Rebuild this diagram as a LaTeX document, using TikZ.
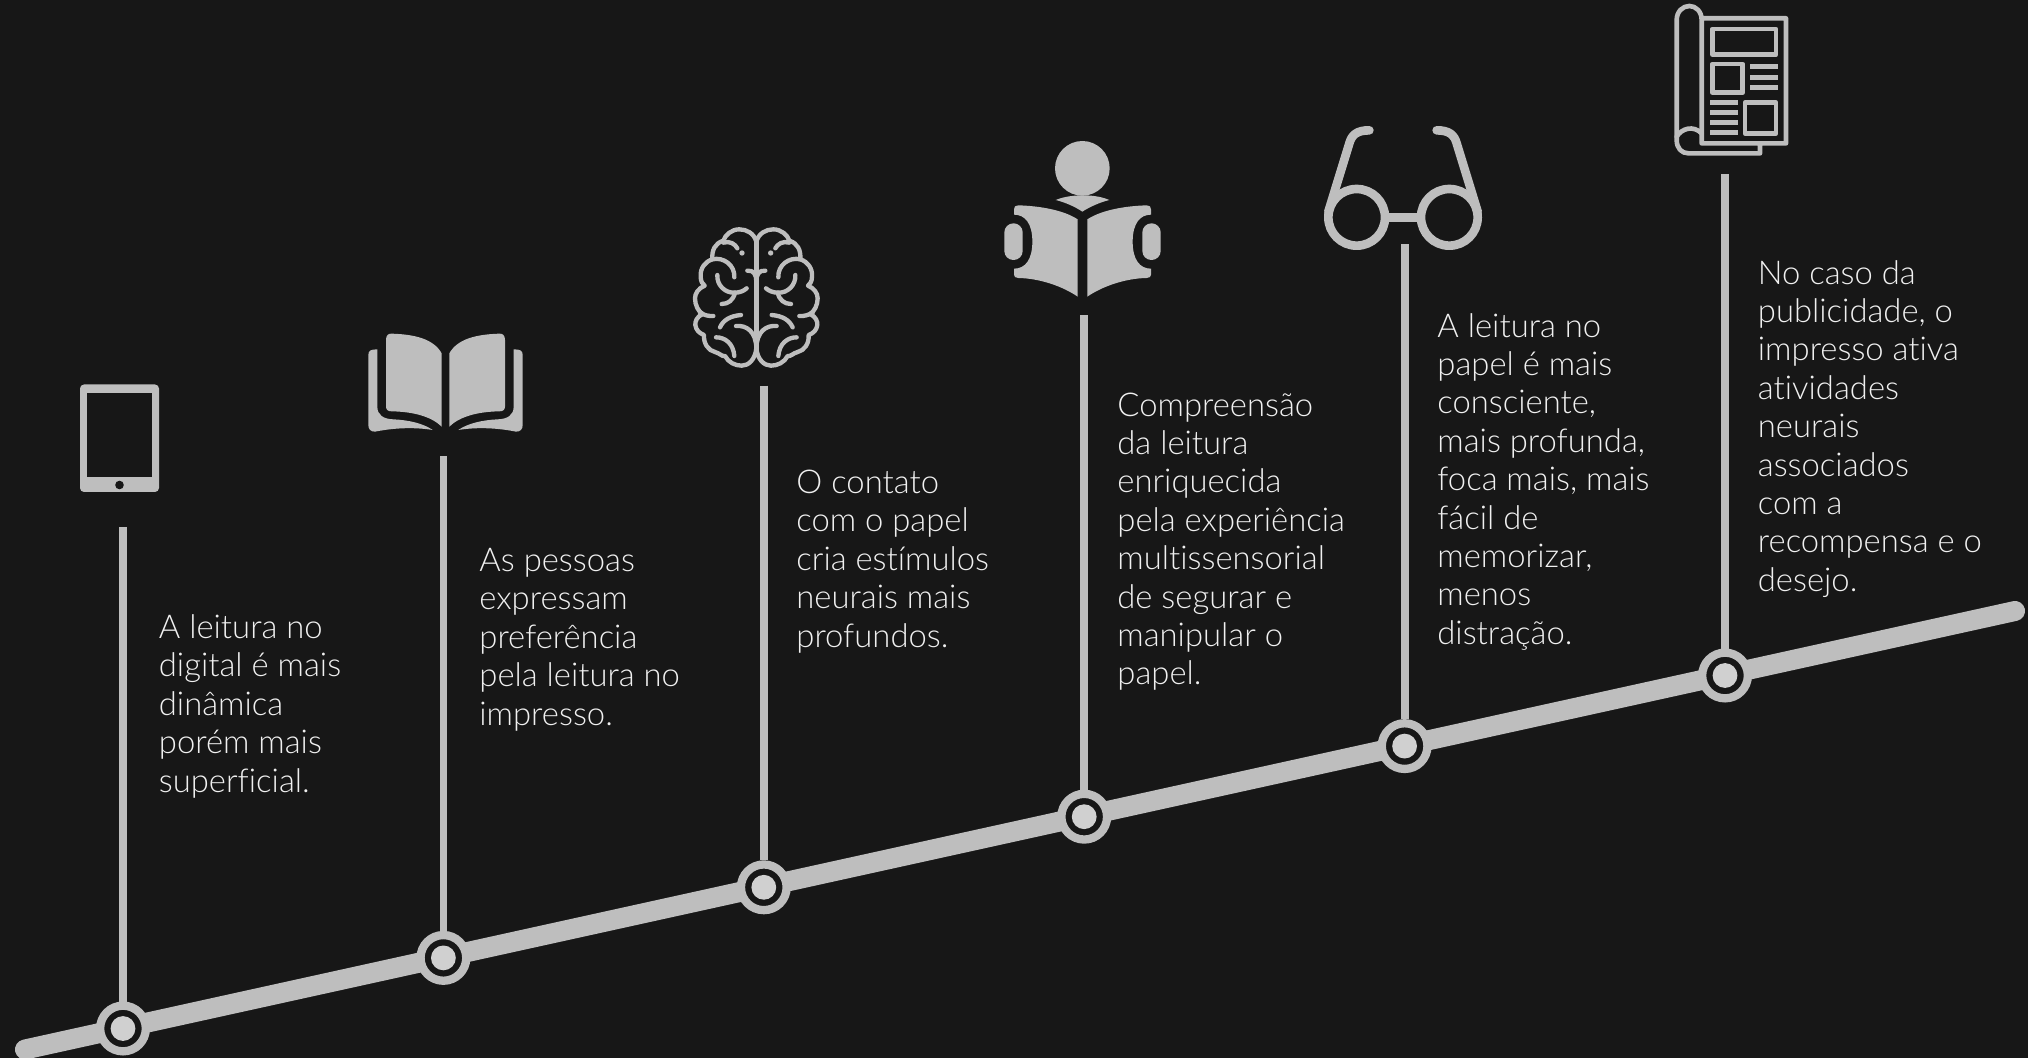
\documentclass[tikz,border=0pt]{standalone}
\usepackage{fontspec}
\setmainfont{Lato Light}[Ligatures=NoCommon]
\usetikzlibrary{positioning}
\definecolor{bgc}{HTML}{171717}
\definecolor{linec}{HTML}{BEBEBE}
\definecolor{discc}{HTML}{D0D0D0}
\definecolor{textc}{HTML}{F0F0F0}
\tikzset{
  crop/.style={x=0.16667pt,y=-0.16667pt},
  glyph/.style={fill=linec,draw=none},
  outline/.style={draw=linec,fill=none,line cap=round,line join=round},
  rail/.style={draw=linec,line width=10pt,line cap=round},
  stem/.style={draw=linec,line width=3.9pt},
  marker/.style={circle,inner sep=0pt,minimum size=22.85pt,fill=bgc,draw=linec,line width=4.15pt,
    path picture={\fill[discc] (path picture bounding box.center) circle (6.2pt);}},
  caption/.style={anchor=base west,inner sep=0pt,align=left,text=textc,
    font=\fontsize{16.4pt}{19.2pt}\selectfont}
}
\newcommand{\bookhalf}{
  \fill[glyph] (138,90) .. controls (138,76) and (145,70) .. (155,71)
    .. controls (220,73) and (280,85) .. (305,130) -- (305,350)
    .. controls (275,320) and (220,305) .. (155,304)
    .. controls (145,304) and (138,300) .. (138,290) -- cycle;
  \fill[glyph] (85,135) .. controls (85,122) and (92,118) .. (112,118) -- (112,290)
    .. controls (112,315) and (130,327) .. (160,328)
    .. controls (205,330) and (250,340) .. (278,360)
    .. controls (230,352) and (170,352) .. (105,365)
    .. controls (92,365) and (85,358) .. (85,345) -- cycle;
}
\newcommand{\brainhalf}{
  \draw[outline,line width=2.17pt] (229,65) .. controls (222,40) and (200,28) .. (178,28)
    .. controls (155,28) and (135,45) .. (130,62)
    .. controls (105,70) and (95,90) .. (97,118)
    .. controls (75,125) and (60,145) .. (62,170)
    .. controls (62,185) and (68,192) .. (74,197)
    .. controls (55,205) and (45,220) .. (45,235)
    .. controls (45,255) and (55,275) .. (68,282)
    .. controls (50,290) and (45,305) .. (46,315)
    .. controls (48,330) and (58,340) .. (72,345)
    .. controls (70,370) and (85,392) .. (105,396)
    .. controls (120,400) and (125,410) .. (135,408)
    .. controls (145,427) and (165,437) .. (185,437)
    .. controls (205,437) and (225,420) .. (229,385);
  \draw[outline,line width=2.17pt] (130,68) .. controls (150,62) and (165,72) .. (172,85);
  \fill[glyph] (186,99) circle (8);
  \draw[outline,line width=2.17pt] (97,118) .. controls (130,110) and (165,135) .. (163,172);
  \draw[outline,line width=2.17pt] (112,165) .. controls (110,195) and (135,220) .. (165,218)
    .. controls (180,218) and (192,212) .. (200,205);
  \draw[outline,line width=2.17pt] (165,218) .. controls (160,240) and (145,252) .. (125,252);
  \draw[outline,line width=2.17pt] (202,152) .. controls (222,150) and (229,165) .. (229,185);
  \draw[outline,line width=2.17pt] (60,278) .. controls (72,285) and (85,289) .. (100,288);
  \draw[outline,line width=2.17pt] (120,322) .. controls (130,300) and (150,288) .. (183,285);
  \draw[outline,line width=2.17pt] (168,318) .. controls (200,315) and (228,335) .. (229,385);
  \draw[outline,line width=2.17pt] (108,352) .. controls (135,352) and (160,370) .. (163,408);
}
\newcommand{\readerhalf}{
  \fill[glyph] (85,226) .. controls (150,228) and (220,240) .. (263,268) -- (263,500)
    .. controls (220,470) and (150,445) .. (85,444)
    .. controls (76,444) and (72,440) .. (72,434) -- (72,416)
    .. controls (105,416) and (127,390) .. (127,335)
    .. controls (127,280) and (105,254) .. (72,254) -- (72,238)
    .. controls (72,230) and (76,226) .. (85,226) -- cycle;
  \fill[glyph,rounded corners=4.5pt] (43,280) rectangle (98,390);
}
\newcommand{\glasseshalf}{
  \draw[outline,line width=4.33pt] (140,307) circle (85);
  \draw[outline,line width=4.33pt] (55,290) -- (118,85) .. controls (125,60) and (140,46) .. (178,46);
}
\begin{document}
\begin{tikzpicture}[x=0.5pt,y=-0.5pt,on grid,node distance=250.8pt]
   \useasboundingbox (0,0) rectangle (2028,1058);
   \fill[bgc] (0,0) rectangle (2028,1058);
   \coordinate (rail_a) at (25,1049.5);
   \coordinate (rail_b) at (2015,611);
   \draw[rail] (rail_a) -- (rail_b);
   \node[marker] (p_1) at (123,1028.5) {};
   \node[marker] (p_2) [above right=35.3pt and 160.2pt of p_1] {};
   \node[marker] (p_3) [above right=35.3pt and 160.2pt of p_2] {};
   \node[marker] (p_4) [above right=35.3pt and 160.2pt of p_3] {};
   \node[marker] (p_5) [above right=35.3pt and 160.2pt of p_4] {};
   \node[marker] (p_6) [above right=35.3pt and 160.2pt of p_5] {};
   \node[coordinate] (s_1) [above=of p_1] {};
   \node[coordinate] (s_2) [above=of p_2] {};
   \node[coordinate] (s_3) [above=of p_3] {};
   \node[coordinate] (s_4) [above=of p_4] {};
   \node[coordinate] (s_5) [above=of p_5] {};
   \node[coordinate] (s_6) [above=of p_6] {};
   \path[stem]
    (s_1) edge (p_1)
    (s_2) edge (p_2)
    (s_3) edge (p_3)
    (s_4) edge (p_4)
    (s_5) edge (p_5)
    (s_6) edge (p_6);
   \node[caption] (t_1) at (158.5,792) {A leitura no\\digital é mais\\dinâmica\\porém mais\\superficial.};
   \node[caption] (t_2) at (479,725) {As pessoas\\expressam\\preferência\\pela leitura no\\impresso.};
   \node[caption] (t_3) at (796,647) {O contato\\com o papel\\cria estímulos\\neurais mais\\profundos.};
   \node[caption] (t_4) at (1117,684.8) {Compreensão\\da leitura\\enriquecida\\pela experiência\\multissensorial\\de segurar e\\manipular o\\papel.};
   \node[caption] (t_5) at (1437,644.3) {A leitura no\\papel é mais\\consciente,\\mais profunda,\\foca mais, mais\\fácil de\\memorizar,\\menos\\distração.};
   \node[caption] (t_6) at (1757.5,591.3) {No caso da\\publicidade, o\\impresso ativa\\atividades\\neurais\\associados\\com a\\recompensa e o\\desejo.};
   % tablet
   \fill[glyph,rounded corners=2pt] (80,384.5) rectangle (159,492);
   \fill[bgc] (87,393) rectangle (152,477);
   \fill[bgc] (119.5,485) circle (4.3);
   % book
   \begin{scope}[shift={(340,310)},crop]
     \bookhalf
     \begin{scope}[cm={-1,0,0,1,(105.5pt,0pt)}]
       \bookhalf
     \end{scope}
   \end{scope}
   % brain
   \begin{scope}[shift={(680,220)},crop]
     \brainhalf
     \begin{scope}[cm={-1,0,0,1,(76.33pt,0pt)}]
       \brainhalf
     \end{scope}
     \draw[outline,line width=2.3pt] (229,65) -- (229,395);
   \end{scope}
   % reader
   \begin{scope}[shift={(990,130)},crop]
     \fill[glyph] (277,115) circle (82);
     \fill[glyph] (197,210) .. controls (225,198) and (260,196) .. (277,196)
       .. controls (300,196) and (330,198) .. (358,210)
       .. controls (330,217) and (300,230) .. (277,245)
       .. controls (255,230) and (225,217) .. (197,210) -- cycle;
     \readerhalf
     \begin{scope}[cm={-1,0,0,1,(92.5pt,0pt)}]
       \readerhalf
     \end{scope}
   \end{scope}
   % glasses
   \begin{scope}[shift={(1310,115)},crop]
     \glasseshalf
     \begin{scope}[cm={-1,0,0,1,(93pt,0pt)}]
       \glasseshalf
     \end{scope}
     \draw[outline,line width=4.5pt,line cap=butt] (238,308) -- (320,308);
   \end{scope}
   % newspaper
   \begin{scope}[shift={(1660,0)},crop,outline,line width=2.33pt]
     \draw (125,55) -- (378,55) -- (378,430) -- (125,430) -- (125,60)
       .. controls (125,35) and (108,18) .. (88,18)
       .. controls (68,18) and (50,35) .. (50,60) -- (50,420)
       .. controls (50,445) and (65,460) .. (85,460) -- (300,460) -- (300,432);
     \draw (50,410) .. controls (65,385) and (100,375) .. (125,400);
     \draw (157,87) rectangle (348,164);
     \draw (157,192) rectangle (248,278);
     \draw (255,308) rectangle (348,400);
     \draw[line width=2.5pt,line cap=butt]
       (271,201) -- (355,201) (271,232) -- (355,232) (271,262) -- (355,262)
       (150,308) -- (233,308) (150,338) -- (233,338) (150,368) -- (233,368) (150,399) -- (233,399);
   \end{scope}
\end{tikzpicture}
\end{document}
